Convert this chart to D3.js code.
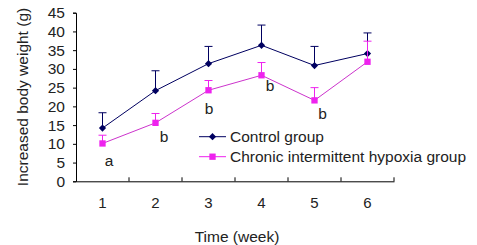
<!DOCTYPE html>
<html>
<head>
<meta charset="utf-8">
<script src="https://cdn.jsdelivr.net/npm/d3@7"></script>
<style>
  body { margin: 0; background: #fff; }
  text { font-family: Arial, "Liberation Sans", sans-serif; fill: #222; }
</style>
</head>
<body>
<script>
const weeks = ['1', '2', '3', '4', '5', '6']
const controlMean = [14.2, 24.2, 31.4, 36.3, 30.9, 34.1]
const controlErr = [4.1, 5.3, 4.6, 5.4, 5.1, 5.5]
const hypoxiaMean = [10.1, 15.6, 24.3, 28.3, 21.6, 31.9]
const hypoxiaErr = [2.2, 2.5, 2.6, 3.4, 3.4, 5.5]
const sigLabels = ['a', 'b', 'b', 'b', 'b', '']
const yTicks = [0, 5, 10, 15, 20, 25, 30, 35, 40, 45]

const W = 477, H = 245
const margin = {top: 12.7, right: 83, bottom: 63.7, left: 76}

const svg = d3.select('body').append('svg')
  .attr('width', W).attr('height', H)

const x = d3.scaleBand().domain(weeks).range([margin.left, W - margin.right])
const y = d3.scaleLinear().domain([0, 45]).range([H - margin.bottom, margin.top])
const cx = d => x(d) + x.bandwidth() / 2

const navy = '#000060', pink = '#ee22ee', pinkLine = '#cc33cc'

// axes
const yAxis = svg.append('g')
  .attr('transform', `translate(${margin.left},0)`)
  .call(d3.axisLeft(y).tickValues(yTicks).tickSize(3).tickPadding(8))
yAxis.selectAll('text').style('font-size', '15.5px')

const xAxis = svg.append('g')
  .attr('transform', `translate(0,${y(0)})`)
  .call(d3.axisBottom(x).tickSize(0).tickPadding(16))
xAxis.selectAll('text').style('font-size', '15px')
// boundary ticks between categories, pointing up
svg.append('g').selectAll('line')
  .data(weeks)
  .join('line')
  .attr('x1', d => x(d) + x.bandwidth()).attr('x2', d => x(d) + x.bandwidth())
  .attr('y1', y(0)).attr('y2', y(0) - 4)
  .attr('stroke', '#000')
svg.selectAll('.domain').attr('stroke', '#000')
svg.selectAll('.tick line').attr('stroke', '#000')

// titles
svg.append('text')
  .attr('transform', `translate(22,${(y(0) + y(45)) / 2}) rotate(-90)`)
  .attr('text-anchor', 'middle').attr('dominant-baseline', 'central')
  .style('font-size', '15.5px')
  .text('Increased body weight (g)')
svg.append('text')
  .attr('x', 237).attr('y', 236)
  .attr('text-anchor', 'middle').attr('dominant-baseline', 'central')
  .style('font-size', '15.5px')
  .text('Time (week)')

// marker: diamond = square turned 45 degrees
function marker(sel, kind) {
  sel.attr('d', d3.symbol().type(d3.symbolSquare).size(kind === 'diamond' ? 26 : 40)())
}
const rot = kind => kind === 'diamond' ? ' rotate(45)' : ''

function drawSeries(mean, err, color, lineColor, kind) {
  const g = svg.append('g')
  // error bars (upper only)
  g.selectAll('.err').data(weeks).join('line')
    .attr('x1', cx).attr('x2', cx)
    .attr('y1', (d, i) => y(mean[i])).attr('y2', (d, i) => y(mean[i] + err[i]))
    .attr('stroke', color).attr('stroke-width', 1)
  g.selectAll('.cap').data(weeks).join('line')
    .attr('x1', d => cx(d) - 4).attr('x2', d => cx(d) + 4)
    .attr('y1', (d, i) => y(mean[i] + err[i])).attr('y2', (d, i) => y(mean[i] + err[i]))
    .attr('stroke', color).attr('stroke-width', 1)
  const line = d3.line().x(d => cx(d)).y((d, i) => y(mean[i]))
  g.append('path').datum(weeks).attr('d', line)
    .attr('fill', 'none').attr('stroke', lineColor).attr('stroke-width', 1)
  g.selectAll('.pt').data(weeks).join('path')
    .call(marker, kind)
    .attr('transform', (d, i) => `translate(${cx(d)},${y(mean[i])})${rot(kind)}`)
    .attr('fill', color)
}

drawSeries(controlMean, controlErr, navy, navy, 'diamond')
drawSeries(hypoxiaMean, hypoxiaErr, pink, pinkLine, 'square')

// significance letters
const sigOffsets = [[6.5, 17.4], [8.5, 13.3], [0.5, 18.7], [8.5, 10], [8, 13]]
svg.append('g').selectAll('text')
  .data(weeks.filter((d, i) => sigLabels[i]))
  .join('text')
  .attr('x', (d, i) => cx(d) + sigOffsets[i][0])
  .attr('y', (d, i) => y(hypoxiaMean[i]) + sigOffsets[i][1])
  .attr('text-anchor', 'middle').attr('dominant-baseline', 'central')
  .style('font-size', '15.5px')
  .text((d, i) => sigLabels[i])

// legend
const legend = [
  {name: 'Control group', color: navy, kind: 'diamond'},
  {name: 'Chronic intermittent hypoxia group', color: pink, kind: 'square'}
]
const lg = svg.append('g').selectAll('g').data(legend).join('g')
  .attr('transform', (d, i) => `translate(199,${136.7 + i * 20})`)
lg.append('line').attr('x1', 0).attr('x2', 27)
  .attr('stroke', d => d.color)
lg.append('path')
  .attr('transform', d => `translate(13.5,0)${rot(d.kind)}`)
  .each(function(d) { d3.select(this).call(marker, d.kind) })
  .attr('fill', d => d.color)
lg.append('text').attr('x', 31).attr('dominant-baseline', 'central')
  .style('font-size', '15.5px')
  .text(d => d.name)
</script>
</body>
</html>
